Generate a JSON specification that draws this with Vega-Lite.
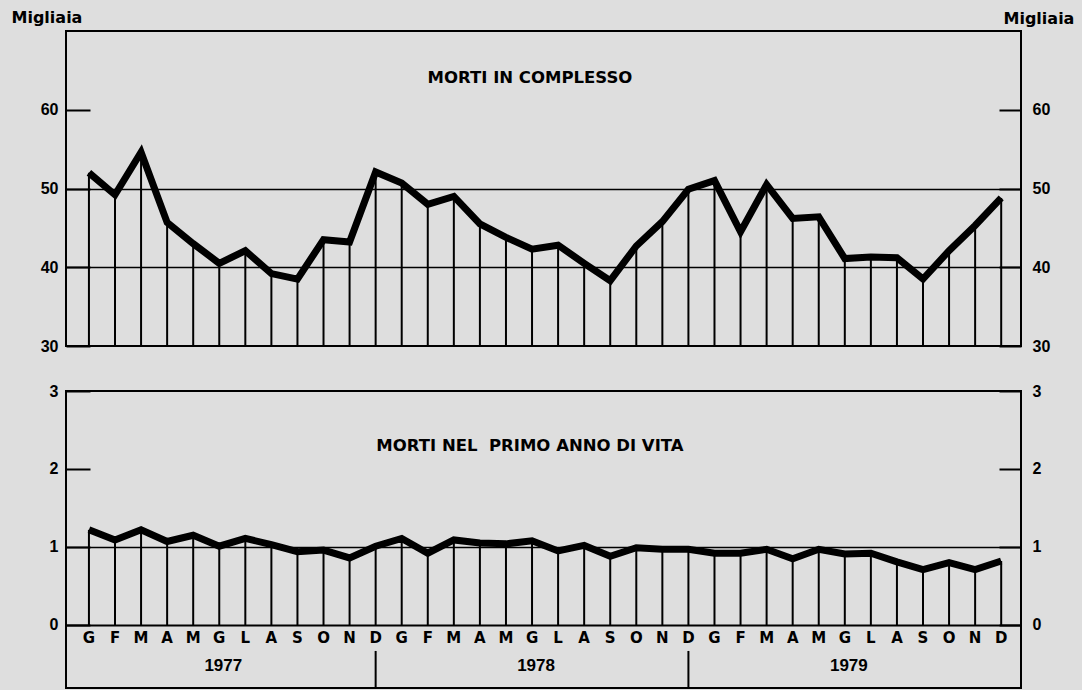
{
  "$schema": "https://vega.github.io/schema/vega-lite/v6.json",
  "padding": {"left": 10, "top": 8, "right": 12, "bottom": 2},
  "background": "#dedede",
  "config": {
    "view": {"stroke": "#000", "strokeWidth": 2},
    "font": "Liberation Sans"
  },
  "datasets": {
    "m": [
      {"i": 0, "m": "G", "year": 1977, "tot": 52.0, "inf": 1.22},
      {"i": 1, "m": "F", "year": 1977, "tot": 49.2, "inf": 1.09},
      {"i": 2, "m": "M", "year": 1977, "tot": 54.6, "inf": 1.22},
      {"i": 3, "m": "A", "year": 1977, "tot": 45.7, "inf": 1.07},
      {"i": 4, "m": "M", "year": 1977, "tot": 43.0, "inf": 1.15},
      {"i": 5, "m": "G", "year": 1977, "tot": 40.5, "inf": 1.01},
      {"i": 6, "m": "L", "year": 1977, "tot": 42.1, "inf": 1.11},
      {"i": 7, "m": "A", "year": 1977, "tot": 39.2, "inf": 1.03},
      {"i": 8, "m": "S", "year": 1977, "tot": 38.5, "inf": 0.94},
      {"i": 9, "m": "O", "year": 1977, "tot": 43.5, "inf": 0.96},
      {"i": 10, "m": "N", "year": 1977, "tot": 43.2, "inf": 0.86},
      {"i": 11, "m": "D", "year": 1977, "tot": 52.1, "inf": 1.01},
      {"i": 12, "m": "G", "year": 1978, "tot": 50.7, "inf": 1.11},
      {"i": 13, "m": "F", "year": 1978, "tot": 48.0, "inf": 0.92},
      {"i": 14, "m": "M", "year": 1978, "tot": 49.0, "inf": 1.09},
      {"i": 15, "m": "A", "year": 1978, "tot": 45.5, "inf": 1.05},
      {"i": 16, "m": "M", "year": 1978, "tot": 43.8, "inf": 1.04},
      {"i": 17, "m": "G", "year": 1978, "tot": 42.3, "inf": 1.08},
      {"i": 18, "m": "L", "year": 1978, "tot": 42.8, "inf": 0.95},
      {"i": 19, "m": "A", "year": 1978, "tot": 40.5, "inf": 1.02},
      {"i": 20, "m": "S", "year": 1978, "tot": 38.3, "inf": 0.88},
      {"i": 21, "m": "O", "year": 1978, "tot": 42.7, "inf": 0.99},
      {"i": 22, "m": "N", "year": 1978, "tot": 45.8, "inf": 0.97},
      {"i": 23, "m": "D", "year": 1978, "tot": 49.9, "inf": 0.97},
      {"i": 24, "m": "G", "year": 1979, "tot": 51.0, "inf": 0.92},
      {"i": 25, "m": "F", "year": 1979, "tot": 44.5, "inf": 0.92},
      {"i": 26, "m": "M", "year": 1979, "tot": 50.5, "inf": 0.97},
      {"i": 27, "m": "A", "year": 1979, "tot": 46.2, "inf": 0.85},
      {"i": 28, "m": "M", "year": 1979, "tot": 46.4, "inf": 0.97},
      {"i": 29, "m": "G", "year": 1979, "tot": 41.1, "inf": 0.91},
      {"i": 30, "m": "L", "year": 1979, "tot": 41.3, "inf": 0.92},
      {"i": 31, "m": "A", "year": 1979, "tot": 41.2, "inf": 0.81},
      {"i": 32, "m": "S", "year": 1979, "tot": 38.5, "inf": 0.71},
      {"i": 33, "m": "O", "year": 1979, "tot": 42.1, "inf": 0.80},
      {"i": 34, "m": "N", "year": 1979, "tot": 45.3, "inf": 0.71},
      {"i": 35, "m": "D", "year": 1979, "tot": 48.8, "inf": 0.82}
    ],
    "titles": [
      {"panel": "top", "label": "MORTI IN COMPLESSO"},
      {"panel": "bottom", "label": "MORTI NEL\u00a0\u00a0PRIMO\u00a0ANNO DI VITA"}
    ]
  },
  "spacing": 27,
  "vconcat": [
    {
      "width": 955,
      "height": 315,
      "layer": [
        {
          "data": {"name": "m"},
          "mark": {"type": "rule", "color": "#000", "strokeWidth": 2},
          "encoding": {
            "x": {"field": "i", "type": "quantitative", "scale": {"domain": [-0.88, 35.76], "nice": false, "zero": false}, "axis": null},
            "y": {
              "field": "tot", "type": "quantitative",
              "scale": {"domain": [30, 70], "nice": false},
              "axis": {
                "orient": "left", "values": [30, 40, 50, 60], "domain": false,
                "tickSize": -24, "tickWidth": 2, "tickColor": "#000", "labelPadding": 32,
                "labelFontSize": 16, "labelFontWeight": "bold", "labelColor": "#000",
                "grid": true, "gridColor": "#000", "gridWidth": 1.5,
                "gridOpacity": {"condition": {"test": "datum.value == 40 || datum.value == 50", "value": 1}, "value": 0},
                "title": "Migliaia", "titleAngle": 0, "titleX": -55, "titleY": -14,
                "titleAlign": "left", "titleBaseline": "middle", "titleFont": "DejaVu Sans", "titleFontSize": 16, "titleFontWeight": "bold", "titleColor": "#000"
              }
            },
            "y2": {"datum": 30}
          }
        },
        {
          "data": {"name": "m"},
          "mark": {"type": "line", "color": "#000", "strokeWidth": 7, "strokeJoin": "miter"},
          "encoding": {
            "x": {"field": "i", "type": "quantitative", "scale": {"domain": [-0.88, 35.76], "nice": false, "zero": false}},
            "y": {
              "field": "tot", "type": "quantitative",
              "axis": {
                "orient": "right", "values": [30, 40, 50, 60], "domain": false, "grid": false,
                "tickSize": -22, "tickWidth": 2, "tickColor": "#000", "labelPadding": 33,
                "labelFontSize": 16, "labelFontWeight": "bold", "labelColor": "#000",
                "title": "Migliaia", "titleAngle": 0, "titleX": -18, "titleY": -13,
                "titleAlign": "left", "titleBaseline": "middle", "titleFont": "DejaVu Sans", "titleFontSize": 16, "titleFontWeight": "bold", "titleColor": "#000"
              }
            }
          }
        },
        {
          "data": {"name": "titles"},
          "transform": [{"filter": "datum.panel == 'top'"}],
          "mark": {"type": "text", "font": "DejaVu Sans", "fontSize": 16.5, "fontWeight": "bold", "color": "#000", "align": "center", "baseline": "middle"},
          "encoding": {
            "x": {"datum": 16.92, "type": "quantitative", "scale": {"domain": [-0.88, 35.76], "nice": false, "zero": false}},
            "y": {"datum": 64, "type": "quantitative", "axis": null},
            "text": {"field": "label"}
          }
        }
      ],
      "resolve": {"axis": {"y": "independent"}}
    },
    {
      "width": 955,
      "height": 297,
      "layer": [
        {
          "data": {"name": "m"},
          "mark": {"type": "rule", "color": "#000", "strokeWidth": 2},
          "encoding": {
            "x": {"field": "i", "type": "quantitative", "scale": {"domain": [-0.88, 35.76], "nice": false, "zero": false}, "axis": null},
            "y": {
              "field": "inf", "type": "quantitative",
              "scale": {"domain": [-0.808, 3], "nice": false, "zero": false},
              "axis": {
                "orient": "left", "values": [0, 1, 2, 3], "domain": false,
                "tickSize": -24, "tickWidth": 2, "tickColor": "#000", "labelPadding": 32,
                "labelFontSize": 16, "labelFontWeight": "bold", "labelColor": "#000",
                "grid": true, "gridColor": "#000",
                "gridWidth": {"condition": {"test": "datum.value == 0", "value": 2}, "value": 1.5},
                "gridOpacity": {"condition": {"test": "datum.value == 0 || datum.value == 1", "value": 1}, "value": 0},
                "title": null
              }
            },
            "y2": {"datum": 0}
          }
        },
        {
          "data": {"name": "m"},
          "mark": {"type": "line", "color": "#000", "strokeWidth": 7, "strokeJoin": "miter"},
          "encoding": {
            "x": {"field": "i", "type": "quantitative", "scale": {"domain": [-0.88, 35.76], "nice": false, "zero": false}},
            "y": {
              "field": "inf", "type": "quantitative",
              "axis": {
                "orient": "right", "values": [0, 1, 2, 3], "domain": false, "grid": false,
                "tickSize": -22, "tickWidth": 2, "tickColor": "#000", "labelPadding": 33,
                "labelFontSize": 16, "labelFontWeight": "bold", "labelColor": "#000",
                "title": null
              }
            }
          }
        },
        {
          "data": {"name": "m"},
          "mark": {"type": "text", "font": "DejaVu Sans", "fontSize": 15, "fontWeight": "bold", "color": "#000", "align": "center", "baseline": "middle"},
          "encoding": {
            "x": {"field": "i", "type": "quantitative", "scale": {"domain": [-0.88, 35.76], "nice": false, "zero": false}},
            "y": {"datum": -0.167, "type": "quantitative", "axis": null},
            "text": {"field": "m"}
          }
        },
        {
          "data": {"name": "m"},
          "transform": [{"filter": "datum.m == 'D' && datum.year < 1979"}],
          "mark": {"type": "rule", "color": "#000", "strokeWidth": 2},
          "encoding": {
            "x": {"field": "i", "type": "quantitative", "scale": {"domain": [-0.88, 35.76], "nice": false, "zero": false}},
            "y": {"datum": -0.333, "type": "quantitative", "axis": null},
            "y2": {"datum": -0.808}
          }
        },
        {
          "data": {"name": "m"},
          "transform": [{"aggregate": [{"op": "mean", "field": "i", "as": "mid"}], "groupby": ["year"]}],
          "mark": {"type": "text", "fontSize": 17, "fontWeight": "bold", "color": "#000", "align": "center", "baseline": "middle", "dx": -9},
          "encoding": {
            "x": {"field": "mid", "type": "quantitative", "scale": {"domain": [-0.88, 35.76], "nice": false, "zero": false}},
            "y": {"datum": -0.526, "type": "quantitative", "axis": null},
            "text": {"field": "year", "type": "nominal"}
          }
        },
        {
          "data": {"name": "titles"},
          "transform": [{"filter": "datum.panel == 'bottom'"}],
          "mark": {"type": "text", "font": "DejaVu Sans", "fontSize": 16.5, "fontWeight": "bold", "color": "#000", "align": "center", "baseline": "middle"},
          "encoding": {
            "x": {"datum": 16.92, "type": "quantitative", "scale": {"domain": [-0.88, 35.76], "nice": false, "zero": false}},
            "y": {"datum": 2.29, "type": "quantitative", "axis": null},
            "text": {"field": "label"}
          }
        }
      ],
      "resolve": {"axis": {"y": "independent"}}
    }
  ]
}
